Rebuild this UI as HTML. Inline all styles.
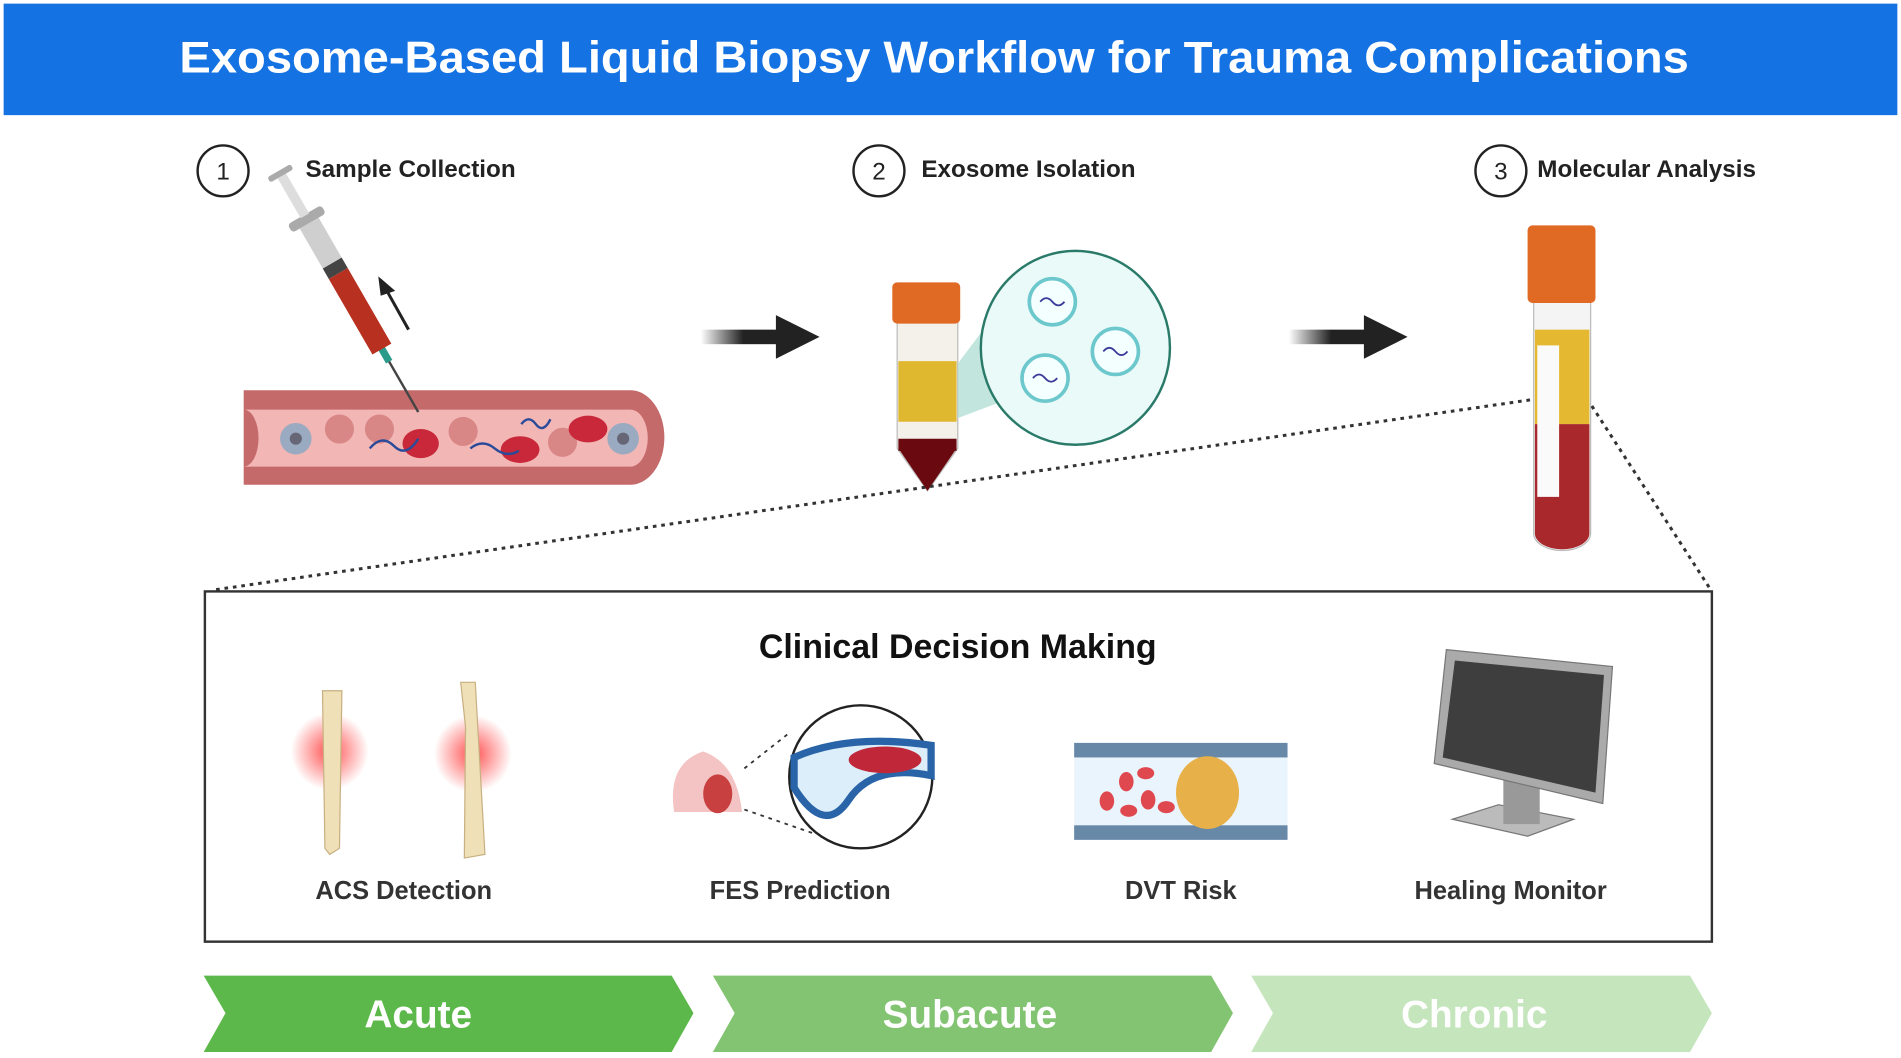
<!DOCTYPE html>
<html><head><meta charset="utf-8"><style>
html,body{margin:0;padding:0;background:#fff;overflow:hidden}
svg{display:block}
text{font-family:"Liberation Sans",sans-serif}
</style></head><body>
<svg width="1901" height="1058" viewBox="0 0 1568 873" preserveAspectRatio="none" xmlns="http://www.w3.org/2000/svg">
<defs>
<radialGradient id="glow"><stop offset="0" stop-color="#ff3030" stop-opacity=".85"/><stop offset="1" stop-color="#ff3030" stop-opacity="0"/></radialGradient>
<linearGradient id="arr" x1="0" x2="1"><stop offset="0" stop-color="#222" stop-opacity="0"/><stop offset=".5" stop-color="#222"/></linearGradient>
</defs>
<rect x="3" y="3" width="1562" height="92" fill="#1572e3"/>
<text x="148" y="60" font-size="37" font-weight="bold" fill="#fff" textLength="1245" lengthAdjust="spacingAndGlyphs">Exosome-Based Liquid Biopsy Workflow for Trauma Complications</text>

<g fill="none" stroke="#222" stroke-width="2"><circle cx="184" cy="141" r="21"/><circle cx="725" cy="141" r="21"/><circle cx="1238" cy="141" r="21"/></g>
<g font-size="20" fill="#222"><text x="184" y="148" text-anchor="middle">1</text><text x="725" y="148" text-anchor="middle">2</text><text x="1238" y="148" text-anchor="middle">3</text></g>
<g font-size="20" font-weight="bold" fill="#222"><text x="252" y="146">Sample Collection</text><text x="760" y="146">Exosome Isolation</text><text x="1268" y="146">Molecular Analysis</text></g>

<path d="M201 322 H520 A28 39 0 0 1 520 400 H201 Z" fill="#c56a6a"/>
<path d="M201 338 H520 A14 23 0 0 1 520 385 H201 A12 23 0 0 0 201 338 Z" fill="#f2b6b4"/>
<circle cx="244" cy="362" r="13" fill="#9aaac0"/><circle cx="244" cy="362" r="5" fill="#667"/>
<circle cx="514" cy="362" r="13" fill="#9aaac0"/><circle cx="514" cy="362" r="5" fill="#667"/>
<g fill="#d98686"><circle cx="280" cy="354" r="12"/><circle cx="313" cy="354" r="12"/><circle cx="382" cy="356" r="12"/><circle cx="464" cy="365" r="12"/></g>
<g fill="#c8283a"><ellipse cx="347" cy="366" rx="15" ry="12"/><ellipse cx="429" cy="371" rx="16" ry="11"/><ellipse cx="485" cy="354" rx="16" ry="11"/></g>
<path d="M305 370 q10 -12 20 -2 t20 -6 M388 370 q10 -8 20 0 t20 2 M430 350 q6 -8 12 0 t12 -4" stroke="#2a4a9a" stroke-width="2" fill="none"/>
<g transform="translate(345,340) rotate(-30)">
<line x1="0" y1="0" x2="0" y2="-50" stroke="#444" stroke-width="2"/>
<rect x="-3" y="-62" width="6" height="14" fill="#2a9a8a"/>
<rect x="-9" y="-132" width="18" height="72" fill="#b83020"/>
<rect x="-9" y="-142" width="18" height="10" fill="#444"/>
<rect x="-9" y="-180" width="18" height="38" fill="#cfcfcf"/>
<rect x="-16" y="-188" width="32" height="8" rx="3" fill="#aaa"/>
<rect x="-4" y="-225" width="8" height="38" fill="#ddd"/>
<rect x="-11" y="-230" width="22" height="5" rx="2" fill="#aaa"/>
</g>
<path d="M337 272 L318 238" stroke="#222" stroke-width="2.5"/><path d="M312 228 L326 240 L314 244 Z" fill="#222"/>

<rect x="578" y="272" width="70" height="12" fill="url(#arr)"/><path d="M640 260 L676 278 L640 296 Z" fill="#222"/>
<rect x="1063" y="272" width="70" height="12" fill="url(#arr)"/><path d="M1125 260 L1161 278 L1125 296 Z" fill="#222"/>

<path d="M740 265 H790 V370 L765 405 L740 370 Z" fill="#f4f0ea" stroke="#bbb"/>
<path d="M741 298 H789 V348 H741 Z" fill="#e0b830"/>
<path d="M741 370 L789 370 L765 405 Z M741 362 H789 V372 H741Z" fill="#6a0a10"/>
<rect x="736" y="233" width="56" height="34" rx="4" fill="#e06a24"/>
<path d="M790 300 L820 260 L830 330 L790 345 Z" fill="#a8dcd0" opacity=".7"/>
<ellipse cx="887" cy="287" rx="78" ry="80" fill="#eafaf8" stroke="#2a7a6a" stroke-width="2"/>
<g fill="#f4ffff" stroke="#6cc8cc" stroke-width="3"><circle cx="868" cy="249" r="19"/><circle cx="920" cy="290" r="19"/><circle cx="862" cy="312" r="19"/></g>
<g stroke="#3a3a9a" fill="none" stroke-width="1.5"><path d="M858 249 q5-6 10 0 t10 0"/><path d="M910 290 q5-6 10 0 t10 0"/><path d="M852 312 q5-6 10 0 t10 0"/></g>

<path d="M1265 248 H1312 V440 A23 14 0 0 1 1265 440 Z" fill="#f4f4f4" stroke="#bbb"/>
<rect x="1266" y="272" width="45" height="78" fill="#e4b830"/>
<path d="M1266 350 H1311 V440 A22 13 0 0 1 1266 440 Z" fill="#a8282c"/>
<rect x="1268" y="285" width="18" height="125" fill="#fafafa"/>
<rect x="1260" y="186" width="56" height="64" rx="4" fill="#e06a24"/>

<g stroke="#333" stroke-width="2.5" stroke-dasharray="3 4" fill="none"><path d="M1262 330 L175 487"/><path d="M1313 335 L1410 485"/><path d="M614 634 L652 604 M614 668 L672 688" stroke-width="1.5"/></g>

<rect x="169" y="488" width="1243" height="289" fill="none" stroke="#333" stroke-width="2"/>
<text x="790" y="543" font-size="28" font-weight="bold" fill="#111" text-anchor="middle">Clinical Decision Making</text>

<circle cx="272" cy="620" r="32" fill="url(#glow)"/><circle cx="390" cy="622" r="32" fill="url(#glow)"/>
<path d="M266 570 L282 570 L280 700 L272 705 L268 700 Z" fill="#efe0b8" stroke="#c8b080"/>
<path d="M380 563 L392 563 L400 705 L383 708 L384 600 Z" fill="#efe0b8" stroke="#c8b080"/>
<path d="M556 670 Q550 630 580 620 Q608 630 612 670 Z" fill="#f4c4c4"/>
<ellipse cx="592" cy="655" rx="12" ry="16" fill="#c84040"/>
<circle cx="710" cy="641" r="59" fill="#fff" stroke="#222" stroke-width="2"/>
<path d="M655 625 Q700 605 768 615 L768 640 Q720 630 700 660 Q680 690 655 650 Z" fill="#dbeefa" stroke="#2a64a8" stroke-width="6"/>
<ellipse cx="730" cy="627" rx="30" ry="11" fill="#c0283a"/>
<rect x="886" y="613" width="176" height="80" fill="#eaf4fc"/>
<rect x="886" y="613" width="176" height="12" fill="#6888a8"/><rect x="886" y="681" width="176" height="12" fill="#6888a8"/>
<g fill="#e04850"><ellipse cx="913" cy="661" rx="6" ry="8"/><ellipse cx="929" cy="645" rx="6" ry="8"/><ellipse cx="947" cy="660" rx="6" ry="8"/><ellipse cx="931" cy="669" rx="7" ry="5"/><ellipse cx="962" cy="666" rx="7" ry="5"/><ellipse cx="945" cy="638" rx="7" ry="5"/></g>
<ellipse cx="996" cy="654" rx="26" ry="30" fill="#e8b048"/>
<path d="M1198 676 L1236 664 L1298 676 L1260 690 Z" fill="#bbb" stroke="#777"/>
<rect x="1240" y="640" width="30" height="40" fill="#999"/>
<path d="M1193 536 L1330 550 L1322 663 L1183 630 Z" fill="#aaa" stroke="#777"/>
<path d="M1200 545 L1323 557 L1316 654 L1190 625 Z" fill="#3e3e3e"/>

<g font-size="21" font-weight="bold" fill="#333" text-anchor="middle"><text x="333" y="742">ACS Detection</text><text x="660" y="742">FES Prediction</text><text x="974" y="742">DVT Risk</text><text x="1246" y="742">Healing Monitor</text></g>

<path d="M168 805 H554 L572 836 L554 868 H168 L186 836 Z" fill="#5cb84a"/>
<path d="M588 805 H999 L1017 836 L999 868 H588 L606 836 Z" fill="#82c472"/>
<path d="M1032 805 H1394 L1412 836 L1394 868 H1032 L1050 836 Z" fill="#c5e5bd"/>
<g font-size="32" font-weight="bold" fill="#fff" text-anchor="middle"><text x="345" y="848">Acute</text><text x="800" y="848">Subacute</text><text x="1216" y="848">Chronic</text></g>
</svg>
</body></html>
